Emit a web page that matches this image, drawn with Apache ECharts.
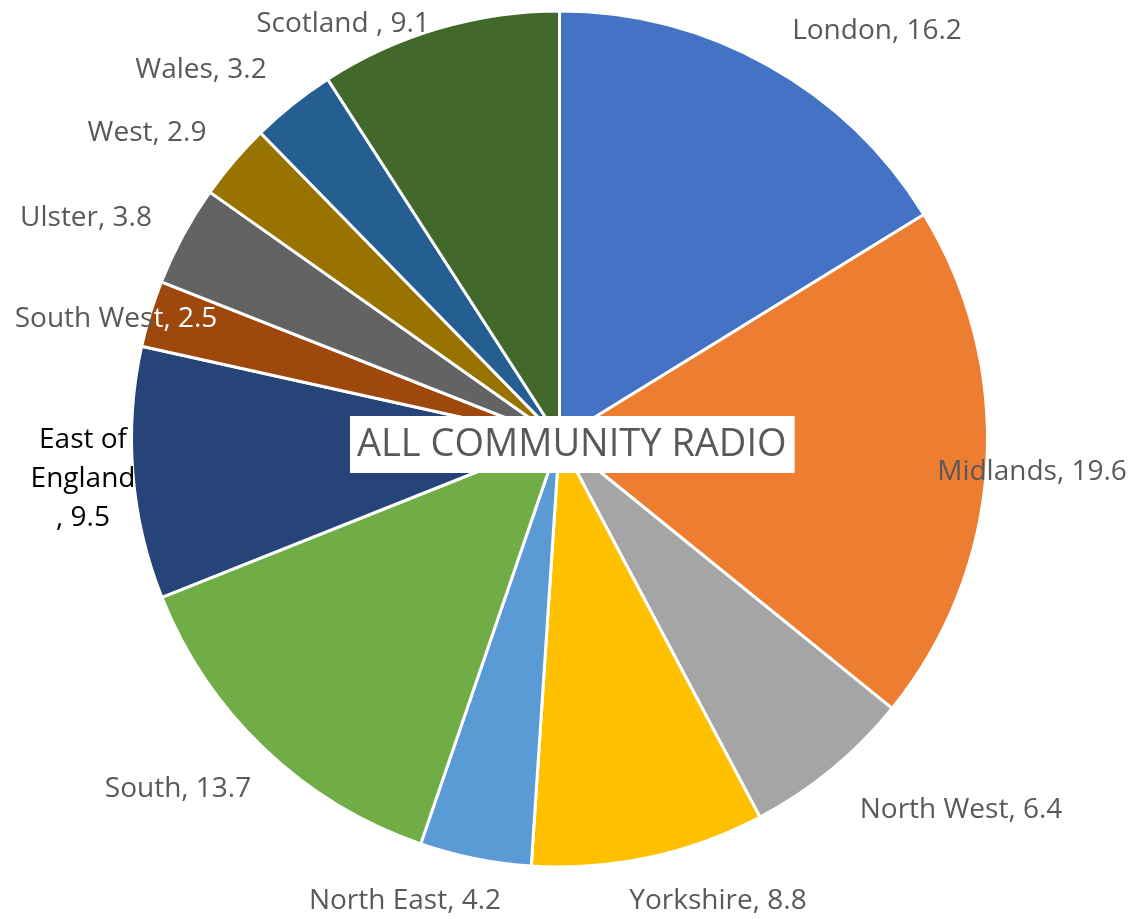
<!DOCTYPE html>
<html><head><meta charset="utf-8">
<script src="https://cdn.jsdelivr.net/npm/echarts@6/dist/echarts.min.js"></script>
<style>html,body{margin:0;padding:0;background:#fff}#c{width:1135px;height:919px}</style>
</head><body><div id="c"></div>
<script>
const categories = ['London','Midlands','North West','Yorkshire','North East','South','East of England','South West','Ulster','West','Wales','Scotland'];
const values = [16.2,19.6,6.4,8.8,4.2,13.7,9.5,2.5,3.8,2.9,3.2,9.1];
const colors = ['#4472C4','#ED7D31','#A5A5A5','#FFC000','#5B9BD5','#70AD47','#264478','#9E480E','#636363','#997300','#255E91','#43682B'];
const chartTitle = 'ALL COMMUNITY RADIO';

// label centres (layout only)
const labelPos = {
  'London':[877,31],'Midlands':[1032,472],'North West':[961,810],'Yorkshire':[718,901],
  'North East':[405,901],'South':[178,789],'East of England':[83,479],'South West':[116,319],
  'Ulster':[86,218],'West':[147,133],'Wales':[201,70],'Scotland':[343,24]
};
const labelText = {
  'East of England':'{b|East of}\n{b|England}\n{b|, 9.5}',
  'South West':'{g|South Wes}{w|t, 2.5}',
  'Scotland':'Scotland , 9.1'
};

const FONT = '"Open Sans", sans-serif';
const FS = 28;
const chart = echarts.init(document.getElementById('c'));
chart.setOption({
  animation:false,
  series:[{
    type:'pie',
    center:[559.5,439],
    radius:[0,428],
    startAngle:90,
    clockwise:true,
    data:categories.map((c,i)=>({name:c,value:values[i],itemStyle:{color:colors[i]}})),
    itemStyle:{borderColor:'#fff',borderWidth:3},
    label:{
      show:true,position:'outside',overflow:'none',
      fontFamily:FONT,fontSize:FS,color:'#595959',
      formatter:p=>labelText[p.name]||(p.name+', '+p.value),
      rich:{
        b:{fontFamily:FONT,fontSize:FS,color:'#000',lineHeight:39,align:'center'},
        g:{fontFamily:FONT,fontSize:FS,color:'#595959'},
        w:{fontFamily:FONT,fontSize:FS,color:'#fff'}
      }
    },
    labelLine:{show:false},
    labelLayout:function(p){
      const pos = labelPos[categories[p.dataIndex]] || [0,0];
      return {x:pos[0],y:pos[1],align:'center',verticalAlign:'middle',hideOverlap:false};
    },
    emphasis:{disabled:true}
  }],
  graphic:[{
    type:'text',
    left:350,top:416,z:100,
    style:{
      text:chartTitle,
      font:'38px '+FONT,
      fill:'#595959',
      backgroundColor:'#fff',
      padding:[10,8,9,7]
    }
  }]
});
</script></body></html>
